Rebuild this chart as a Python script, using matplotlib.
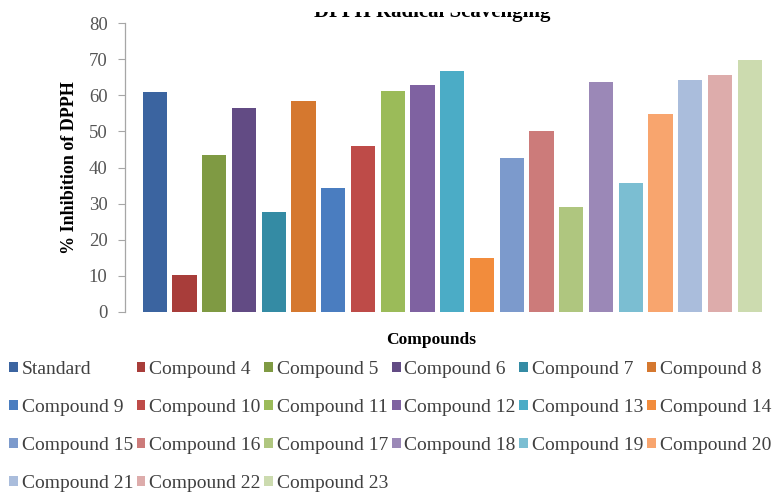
import matplotlib
matplotlib.use("Agg")
import matplotlib.pyplot as plt
from matplotlib.patches import Rectangle

names = ["Standard"] + [f"Compound {i}" for i in range(4, 24)]
values = [60.8, 10.3, 43.5, 56.6, 27.8, 58.5, 34.3, 46.0, 61.2, 62.9, 66.6,
          15.0, 42.5, 50.0, 29.0, 63.8, 35.7, 54.8, 64.3, 65.5, 69.8]
colors = ["#3B64A0", "#A83D3A", "#7F9A43", "#624B84", "#348BA4", "#D5782F",
          "#4A7DC0", "#BE4B48", "#9BBB59", "#7F62A1", "#4BACC6", "#F28C3C",
          "#7C9ACC", "#CC7B7A", "#AFC67F", "#9B88B7", "#7BBED2", "#F8A56E",
          "#AABDDC", "#DDACAB", "#CCDBAF"]
yticks = [0, 10, 20, 30, 40, 50, 60, 70, 80]

plt.rcParams['font.family'] = ['Liberation Serif', 'DejaVu Serif']

W, H = 775, 497
fig = plt.figure(figsize=(W / 100, H / 100), dpi=100)
ax = fig.add_axes([125 / W, 185 / H, (W - 125) / W, 289 / H])

x = list(range(len(values)))
bars = ax.bar(x, values, width=0.82, color=colors, linewidth=0)

ax.set_xlim(-1.0, 20.85)
ax.set_ylim(0, 80)
ax.set_yticks(yticks)
for s in ["top", "right", "bottom"]:
    ax.spines[s].set_visible(False)
ax.spines["left"].set_color("#A6A6A6")
ax.spines["left"].set_linewidth(0.9)
ax.tick_params(axis="y", direction="out", length=5, color="#A6A6A6",
               labelsize=13.5, labelcolor="#555555", pad=7.5)
ax.set_xticks([])
ax.set_ylabel("% Inhibition of DPPH", fontsize=13, fontweight="bold", labelpad=8)

fig.text(431 / W, 1 - 340 / H, "Compounds", ha="center", va="center",
         fontsize=12.5, fontweight="bold")

# title (top of figure is cropped in the reference)
fig.text(432 / W, 1 - 17 / H, "DPPH Radical Scavenging", ha="center",
         va="baseline", fontsize=15, fontweight="bold", zorder=1)
fig.add_artist(Rectangle((0, 1 - 11.5 / H), 1, 11.5 / H, transform=fig.transFigure,
                         facecolor="white", edgecolor="none", zorder=20))

# legend in column-major order to reproduce row-wise layout
patches = list(bars.patches)
order = []
for c in range(6):
    for r in range(4):
        i = r * 6 + c
        if i < len(names):
            order.append(i)
leg = fig.legend([patches[i] for i in order], [names[i] for i in order],
                 ncol=6, loc="upper left", bbox_to_anchor=(9 / W, 1 - 361 / H),
                 frameon=False, fontsize=14, handlelength=0.45, handleheight=0.45,
                 handletextpad=0.2, columnspacing=0.18, labelspacing=1.08,
                 borderpad=0, borderaxespad=0)
for txt in leg.get_texts():
    txt.set_color("#404040")

fig.savefig("out.png", dpi=100)
